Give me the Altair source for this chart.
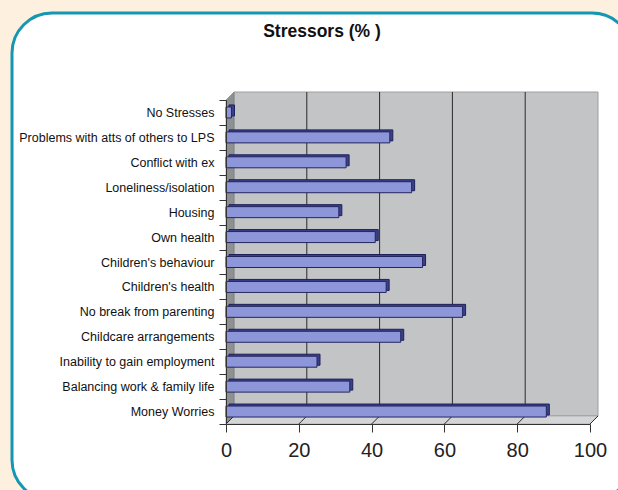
import altair as alt
import pandas as pd

categories = [
    "No Stresses",
    "Problems with atts of others to LPS",
    "Conflict with ex",
    "Loneliness/isolation",
    "Housing",
    "Own health",
    "Children's behaviour",
    "Children's health",
    "No break from parenting",
    "Childcare arrangements",
    "Inability to gain employment",
    "Balancing work & family life",
    "Money Worries",
]
values = [1.5, 45, 33, 51, 31, 41, 54, 44, 65, 48, 25, 34, 88]
x_ticks = [0, 20, 40, 60, 80, 100]
grid_values = [20, 40, 60, 80]
title_text = "Stressors (% )"

W, H = 364, 324   # plot area (front plane)
D = 8             # 3D depth in px
FONT = "Liberation Sans"

df = pd.DataFrame({"stressor": categories, "pct": values})
one = pd.DataFrame({"k": [0]})
ticks_df = pd.DataFrame({"g": x_ticks})
grid_df = pd.DataFrame({"g": grid_values})

x_scale = alt.Scale(domain=[0, 100], nice=False, zero=True)
y_scale = alt.Scale(domain=categories, paddingInner=0, paddingOuter=0)

# outer rounded white panel
box = alt.Chart(one).mark_rect(
    fill="white", stroke="#1596B2", strokeWidth=3, cornerRadius=40
).encode(x=alt.value(-214), x2=alt.value(406), y=alt.value(-87), y2=alt.value(400))

title = alt.Chart(one).mark_text(
    text=title_text, font=FONT, fontSize=17.5, fontWeight="bold", color="#111",
    align="center", baseline="middle"
).encode(x=alt.value(96), y=alt.value(-68))

# left side wall (parallelogram)
left_wall_df = pd.DataFrame({"px": [0, D], "top": [0, -D], "bot": [H, H - D]})
left_wall = alt.Chart(left_wall_df).mark_area(
    orient="vertical", fill="#8E9092", stroke="#6a6c6e", strokeWidth=0.5
).encode(
    x=alt.X("px:Q", scale=None, axis=None),
    y=alt.Y("top:Q", scale=None, axis=None),
    y2="bot:Q",
)

# floor (parallelogram)
floor_df = pd.DataFrame({"py": [H - D, H], "l": [D, 0], "r": [W + D, W]})
floor = alt.Chart(floor_df).mark_area(
    orient="horizontal", fill="#D3D5D7", stroke="#8a8c8e", strokeWidth=0.5
).encode(
    y=alt.Y("py:Q", scale=None, axis=None),
    x=alt.X("l:Q", scale=None, axis=None),
    x2="r:Q",
)

# back wall
back_wall = alt.Chart(one).mark_rect(
    fill="#C2C4C6", stroke="#9C9EA0", strokeWidth=1
).encode(x=alt.value(D), x2=alt.value(W + D), y=alt.value(-D), y2=alt.value(H - D))

grid = alt.Chart(grid_df).mark_rule(color="#2a2a2a", strokeWidth=1, xOffset=D).encode(
    x=alt.X("g:Q", scale=x_scale, axis=None),
    y=alt.value(-D),
    y2=alt.value(H - D),
)

floor_lines = alt.Chart(ticks_df).mark_rule(
    color="#2a2a2a", strokeWidth=1, x2Offset=D
).encode(
    x=alt.X("g:Q", scale=x_scale, axis=None),
    x2="g:Q",
    y=alt.value(H),
    y2=alt.value(H - D),
)

bar_depth = alt.Chart(df).mark_bar(
    size=11, xOffset=3, x2Offset=3, yOffset=-2, y2Offset=-2,
    fill="#3B4089", stroke="#1E2158", strokeWidth=1
).encode(
    x=alt.X("pct:Q", scale=x_scale, axis=None),
    y=alt.Y("stressor:N", sort=categories, scale=y_scale, axis=None),
)

bars = alt.Chart(df).mark_bar(
    size=11, fill="#8E96DA", stroke="#23265E", strokeWidth=1
).encode(
    x=alt.X(
        "pct:Q", scale=x_scale, title=None,
        axis=alt.Axis(
            values=x_ticks, grid=False, domainColor="#333", tickColor="#333",
            tickSize=8, labelFontSize=20, labelColor="#222", labelFont=FONT,
            labelPadding=8, domainWidth=1.2, zindex=2, labelFlush=False,
        ),
    ),
    y=alt.Y(
        "stressor:N", sort=categories, scale=y_scale, title=None,
        axis=alt.Axis(
            tickBand="extent", grid=False, domainColor="#333", tickColor="#333",
            tickSize=7, labelFontSize=12.5, labelColor="#111", labelFont=FONT,
            labelPadding=5, labelLimit=300, zindex=2,
        ),
    ),
)

chart = alt.layer(
    box, title, back_wall, left_wall, floor, grid, floor_lines, bar_depth, bars
).resolve_scale(x="independent", y="independent").properties(
    width=W, height=H,
    autosize=alt.AutoSizeParams(type="none"),
    padding={"left": 226, "top": 100, "right": 28, "bottom": 66},
    background="#FDF0DE",
).configure_view(stroke=None)

chart.save("out.html", embed_options={"renderer": "svg", "actions": False})
